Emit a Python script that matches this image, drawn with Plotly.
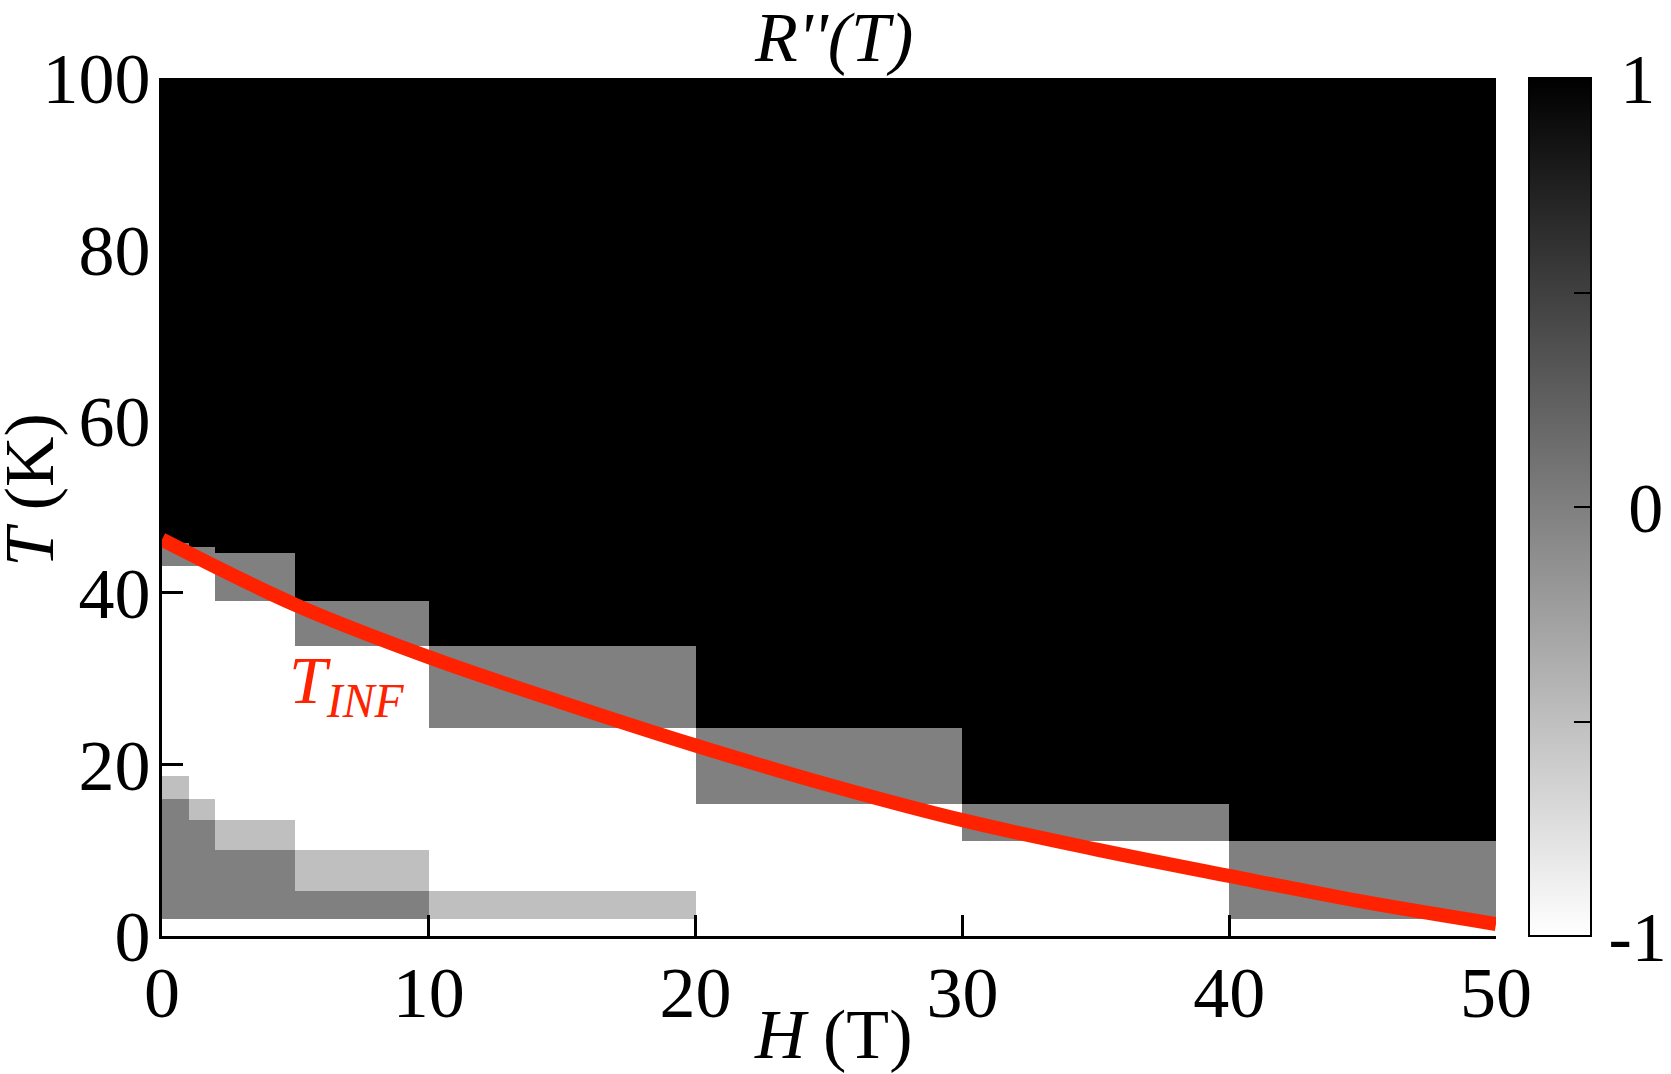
import plotly.graph_objects as go

# ---- data ----
H_edges = [0, 1, 2, 5, 10, 20, 30, 40, 50]          # field bins (T)
T_floor = 2.0                                        # lowest measured temperature (K)
dark_top = [16.0, 13.5, 10.0, 5.3, 2.0, 2.0, 2.0, 2.0]    # top of low dark-gray band
light_top = [18.7, 16.0, 13.5, 10.0, 5.3, 2.0, 2.0, 2.0]  # top of low light-gray band
gray_bottom = [43.1, 43.1, 39.1, 33.8, 24.3, 15.4, 11.1, 2.0]
gray_top = [45.8, 45.3, 44.6, 39.1, 33.8, 24.3, 15.4, 11.1]
T_max = 100.0

VAL_BLACK, VAL_GRAY, VAL_LIGHT, VAL_WHITE = 1.0, 0.0, -0.5, -1.0

H_inf = [0, 5, 10, 15, 20, 25, 30, 35, 40, 45, 50]
T_inf = [46.2, 38.6, 32.5, 27.2, 22.2, 17.6, 13.5, 10.1, 7.0, 4.0, 1.4]

x_ticks = [0, 10, 20, 30, 40, 50]
y_ticks = [0, 20, 40, 60, 80, 100]
cb_labelvals = [-1, 0, 1]
cb_labeltext = ["-1", "\u2009\u200a0", "\u200a\u200a1"]
cb_minor = [-0.5, 0, 0.5]

# ---- build heatmap table ----
T_edges = sorted(set([0.0, T_max, T_floor] + dark_top + light_top + gray_bottom + gray_top))
z = []
for i in range(len(T_edges) - 1):
    tm = 0.5 * (T_edges[i] + T_edges[i + 1])
    row = []
    for j in range(len(H_edges) - 1):
        if tm < T_floor:
            v = VAL_WHITE
        elif tm < dark_top[j]:
            v = VAL_GRAY
        elif tm < light_top[j]:
            v = VAL_LIGHT
        elif tm < gray_bottom[j]:
            v = VAL_WHITE
        elif tm < gray_top[j]:
            v = VAL_GRAY
        else:
            v = VAL_BLACK
        row.append(v)
    z.append(row)

FONT = "Liberation Serif"
CSCALE = [[0, "#ffffff"], [1, "#000000"]]
CB_POS = dict(x=1.025, xanchor="left", xpad=0, ypad=0,
              y=0.5, yanchor="middle", len=1, lenmode="fraction",
              thickness=62, outlinewidth=2, outlinecolor="black")

fig = go.Figure()
fig.add_trace(go.Heatmap(
    x=H_edges, y=T_edges, z=z,
    zmin=-1, zmax=1,
    colorscale=CSCALE,
    showscale=True,
    colorbar=dict(
        **CB_POS,
        tickmode="array", tickvals=cb_labelvals, ticktext=cb_labeltext,
        ticks="outside", ticklen=3, tickwidth=1, tickcolor="rgba(0,0,0,0)",
        tickfont=dict(family=FONT, size=70, color="black"),
    ),
    hoverinfo="skip",
))
# second colorbar overlay carrying the inner tick marks
fig.add_trace(go.Scatter(
    x=[None], y=[None], mode="markers",
    marker=dict(color=[0], cmin=-1, cmax=1, colorscale=CSCALE, showscale=True,
                colorbar=dict(**CB_POS, tickmode="array", tickvals=cb_minor,
                              ticks="inside", ticklen=18, tickwidth=2,
                              tickcolor="black", showticklabels=False)),
    hoverinfo="skip", showlegend=False,
))
fig.add_trace(go.Scatter(
    x=H_inf, y=T_inf, mode="lines",
    line=dict(color="#ff2200", width=14, shape="spline"),
    hoverinfo="skip", showlegend=False,
))

fig.update_layout(
    width=1671, height=1074,
    margin=dict(l=162, r=175, t=78, b=138, autoexpand=False),
    paper_bgcolor="white", plot_bgcolor="white",
    showlegend=False,
    font=dict(family=FONT, color="black"),
    xaxis=dict(
        range=[0, 50], tickmode="array", tickvals=x_ticks,
        ticks="inside", ticklen=21, tickwidth=2.5, tickcolor="black",
        showline=True, linewidth=3, linecolor="black",
        showgrid=False, zeroline=False,
        tickfont=dict(family=FONT, size=72, color="black"),
        ticklabelstandoff=-8,
    ),
    yaxis=dict(
        range=[0, 100], tickmode="array", tickvals=y_ticks,
        ticks="inside", ticklen=21, tickwidth=2.5, tickcolor="black",
        showline=True, linewidth=3, linecolor="black",
        showgrid=False, zeroline=False,
        tickfont=dict(family=FONT, size=72, color="black"),
        ticklabelstandoff=-6,
    ),
    annotations=[
        dict(text="<i>R''(T)</i>", xref="paper", yref="paper",
             x=0.503, y=1.0467, xanchor="center", yanchor="middle",
             showarrow=False, font=dict(family=FONT, size=70, color="black")),
        dict(text="<i>H</i> (T)", xref="paper", yref="paper",
             x=0.503, y=-0.1143, xanchor="center", yanchor="middle",
             showarrow=False, font=dict(family=FONT, size=70, color="black")),
        dict(text="<i>T</i> (K)", xref="paper", yref="paper",
             x=-0.099, y=0.52, xanchor="center", yanchor="middle",
             textangle=-90,
             showarrow=False, font=dict(family=FONT, size=70, color="black")),
        dict(text="<i>T<sub>INF</sub></i>", xref="x", yref="y",
             x=6.9, y=29.3, xanchor="center", yanchor="middle",
             showarrow=False, font=dict(family=FONT, size=68, color="#ff2200")),
    ],
)

fig.write_html("out.html")
